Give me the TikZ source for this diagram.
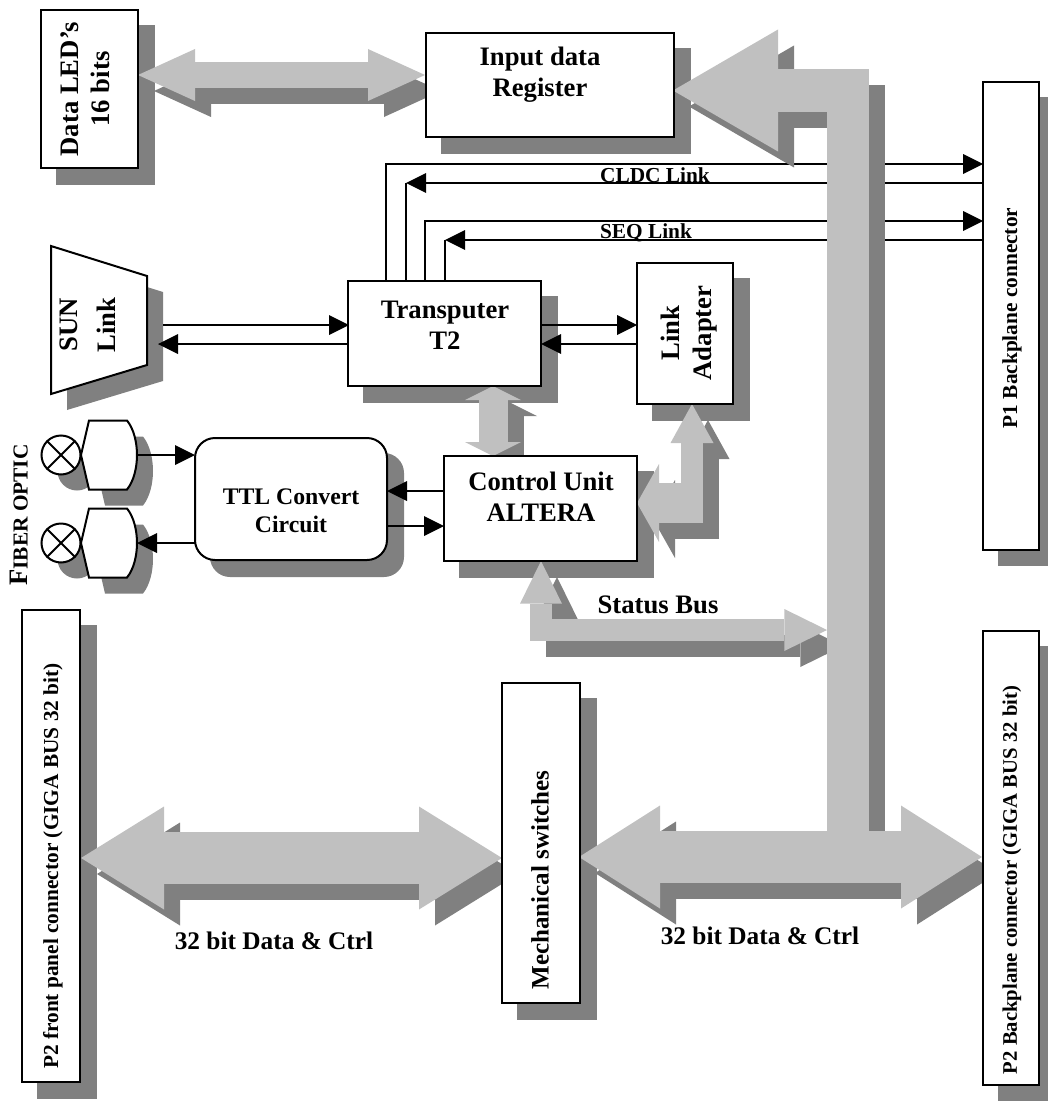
\documentclass[tikz,border=0pt]{standalone}
\usepackage{fontspec}
\setmainfont{Liberation Serif}
\usetikzlibrary{arrows.meta,calc}
\pgfdeclarelayer{box_layer}
\pgfdeclarelayer{link_layer}
\pgfdeclarelayer{bus_layer}
\pgfsetlayers{box_layer,link_layer,bus_layer,main}
\definecolor{shadow_gray}{HTML}{808080}
\definecolor{bus_gray}{HTML}{C0C0C0}
\begin{document}
\begin{tikzpicture}[x=0.75pt, y=-0.75pt]
    \tikzstyle{box_style} = [rectangle, draw=black, fill=white, line width=1.5pt, inner sep=0]
    \tikzstyle{text_big} = [inner sep=0, align=center, font=\fontsize{20}{23.5}\selectfont\bfseries]
    \tikzstyle{text_mid} = [inner sep=0, align=center, font=\fontsize{17.8}{21}\selectfont\bfseries]
    \tikzstyle{text_small} = [inner sep=0, align=center, font=\fontsize{16}{19}\selectfont\bfseries]
    \tikzstyle{link_style} = [draw=black, line width=1.5pt]
    \tikzstyle{link_arrow} = [link_style, -{Triangle[length=15pt, width=15pt, line width=0pt]}]
    \tikzset{
        bus_both/.style n args={3}{line width=#1, {Triangle[length=#2, width=#3, line width=0pt]}-{Triangle[length=#2, width=#3, line width=0pt]}},
        bus_end/.style n args={3}{line width=#1, -{Triangle[length=#2, width=#3, line width=0pt]}}
    }
    \useasboundingbox (0,0) rectangle (1048,1113);

    \node[box_style, minimum width=72.75pt, minimum height=118.5pt] (led) at (89.5,89) {};
    \node[box_style, minimum width=186pt, minimum height=78pt] (input) at (549.5,85) {};
    \node[box_style, minimum width=144.75pt, minimum height=78.75pt] (transputer) at (444.5,333.5) {};
    \node[box_style, minimum width=72pt, minimum height=105.75pt] (adapter) at (685,333.5) {};
    \node[box_style, minimum width=144.75pt, minimum height=78.75pt] (control) at (540.5,508.5) {};
    \node[box_style, rounded corners=15pt, minimum width=144pt, minimum height=91.5pt] (ttl) at (291,499) {};
    \node[box_style, minimum width=58.5pt, minimum height=240pt] (switches) at (541,843) {};
    \node[box_style, minimum width=42pt, minimum height=351pt] (p1) at (1011,316) {};
    \node[box_style, minimum width=42pt, minimum height=340.5pt] (p2back) at (1011,858) {};
    \node[box_style, minimum width=43.5pt, minimum height=354pt] (p2front) at (51,846) {};
    \draw[box_style] (51,246) -- (147,276) -- (147,365) -- (51,394) -- cycle;

    \foreach \y/\n in {455/opt_a, 543/opt_b} {
        \node[box_style, circle, minimum size=29.25pt] (\n) at (61,\y) {};
        \draw[line width=1.5pt] (\n.north west) -- (\n.south east);
        \draw[line width=1.5pt] (\n.north east) -- (\n.south west);
        \draw[box_style, shift={(0,\y)}] (81,0) -- (89,-34.5) -- (127,-34.5) .. controls (134,-26) and (137,-12) .. (137,0) .. controls (137,12) and (134,26) .. (127,34.5) -- (89,34.5) -- cycle;
    }

    \coordinate (sun_a) at (163,325);
    \coordinate (sun_b) at (158,344);
    \coordinate (disp_a) at (137,455);
    \coordinate (disp_b) at (137,543);
    \coordinate (tr_a) at (386,281);
    \coordinate (tr_b) at (406,281);
    \coordinate (tr_c) at (425,281);
    \coordinate (tr_d) at (445,281);
    \coordinate (cor_b) at (406,183);
    \coordinate (cor_d) at (445,240);
    \coordinate (p1_a) at (983,164);
    \coordinate (p1_b) at (983,183);
    \coordinate (p1_c) at (983,221);
    \coordinate (p1_d) at (983,240);
    \coordinate (tr_w1) at (349,325);
    \coordinate (tr_w2) at (349,344);
    \coordinate (tr_e1) at (541,325);
    \coordinate (tr_e2) at (541,344);
    \coordinate (ad_w1) at (637,325);
    \coordinate (ad_w2) at (637,344);
    \coordinate (ttl_w1) at (195,455);
    \coordinate (ttl_w2) at (195,543);
    \coordinate (ttl_e1) at (387,491);
    \coordinate (ttl_e2) at (387,526);
    \coordinate (ctl_w1) at (444,491);
    \coordinate (ctl_w2) at (444,526);

    \coordinate (led_tip) at (138,75);
    \coordinate (in_tip) at (425,75);
    \coordinate (main_tip) at (673,90.5);
    \coordinate (main_end) at (848,857);
    \coordinate (tr_tip) at (493,386);
    \coordinate (ctl_tip_n) at (493,456);
    \coordinate (ctl_tip_e) at (637,503);
    \coordinate (ctl_cor) at (703,503);
    \coordinate (ad_cor) at (692,523);
    \coordinate (ad_tip) at (692,404);
    \coordinate (ctl_tip_s) at (541,561);
    \coordinate (status_tip) at (827,630);
    \coordinate (front_tip) at (81,858);
    \coordinate (sw_tip_w) at (502,858);
    \coordinate (sw_tip_e) at (579,857);
    \coordinate (back_tip) at (982,857);

    \node[text_big, rotate=90] (led_t) at (85,89) {Data LED’s\\16 bits};
    \node[text_big] (input_t) at (540,74.5) {Input data\\Register};
    \node[text_big] (transputer_t) at (445,325) {Transputer\\T2};
    \node[text_big, rotate=90] (adapter_t) at (689,333) {Link\\[1pt]Adapter};
    \node[text_big] (control_t) at (541,497) {Control Unit\\ALTERA};
    \node[text_mid] (ttl_t) at (291,511) {TTL Convert\\Circuit};
    \node[text_big, rotate=90] (sun_t) at (88,325) {SUN\\[5pt]Link};
    \node[text_big, rotate=90, font=\fontsize{18.8}{22}\selectfont\bfseries] (switches_t) at (540,880) {Mechanical switches};
    \node[text_big] (status_t) at (658,605) {Status Bus};
    \node[text_small] (cldc_t) at (655,175) {CLDC Link};
    \node[text_small] (seq_t) at (646,233) {SEQ Link};
    \node[text_mid, font=\fontsize{19}{22}\selectfont\bfseries] (data_a) at (274,941) {32 bit Data \& Ctrl};
    \node[text_mid, font=\fontsize{19}{22}\selectfont\bfseries] (data_b) at (760,936) {32 bit Data \& Ctrl};
    \node[text_small, rotate=90] (p1_t) at (1012,318) {P1 Backplane connector};
    \node[text_small, rotate=90, font=\fontsize{15.5}{19}\selectfont\bfseries] (p2back_t) at (1012,880) {P2 Backplane connector (GIGA BUS 32 bit)};
    \node[text_small, rotate=90] (p2front_t) at (53,866) {P2 front panel connector (GIGA BUS 32 bit)};
    \node[inner sep=0, rotate=90, font=\fontsize{16}{19}\selectfont\bfseries] (fiber_t) at (19,515) {{\fontsize{20}{19}\selectfont F}IBER OPTIC};

    \begin{pgfonlayer}{box_layer}
        \foreach \n in {led,input,transputer,adapter,control,switches,p2front}
            \fill[shadow_gray] ($(\n.north west)+(16,16)$) rectangle ($(\n.south east)+(16,16)$);
        \fill[shadow_gray] ($(p1.north west)+(16,16)$) rectangle (1048,566);
        \fill[shadow_gray] ($(p2back.north west)+(16,16)$) rectangle (1048,1101);
        \fill[shadow_gray, rounded corners=15pt] ($(ttl.north west)+(16,16)$) rectangle ($(ttl.south east)+(16,16)$);
        \fill[shadow_gray] (67,262) -- (163,292) -- (163,381) -- (67,410) -- cycle;
        \foreach \y in {455,543} {
            \fill[shadow_gray] (77,\y+16) circle (19.5);
            \fill[shadow_gray, shift={(16,\y+16)}] (81,0) -- (89,-34.5) -- (127,-34.5) .. controls (134,-26) and (137,-12) .. (137,0) .. controls (137,12) and (134,26) .. (127,34.5) -- (89,34.5) -- cycle;
        }
    \end{pgfonlayer}

    \begin{pgfonlayer}{link_layer}
        \draw[link_arrow] (sun_a) -- (tr_w1);
        \draw[link_arrow] (tr_w2) -- (sun_b);
        \draw[link_arrow] (tr_e1) -- (ad_w1);
        \draw[link_arrow] (ad_w2) -- (tr_e2);
        \draw[link_arrow] (disp_a) -- (ttl_w1);
        \draw[link_arrow] (ttl_w2) -- (disp_b);
        \draw[link_arrow] (ctl_w1) -- (ttl_e1);
        \draw[link_arrow] (ttl_e2) -- (ctl_w2);
        \draw[link_arrow] (tr_a) |- (p1_a);
        \draw[link_arrow] (p1_b) -- (cor_b);
        \draw[link_style] (cor_b) -- (tr_b);
        \draw[link_arrow] (tr_c) |- (p1_c);
        \draw[link_arrow] (p1_d) -- (cor_d);
        \draw[link_style] (cor_d) -- (tr_d);
    \end{pgfonlayer}

    \begin{pgfonlayer}{bus_layer}
        \foreach \busfill/\bx/\by in {shadow_gray/12pt/-12pt, bus_gray/0pt/0pt} {
            \begin{scope}[transform canvas={xshift=\bx, yshift=\by}, draw=\busfill]
                \draw[bus_both={19.5pt}{42.75pt}{39pt}] (led_tip) -- (in_tip);
                \draw[bus_both={21.75pt}{10.5pt}{42pt}] (tr_tip) -- (ctl_tip_n);
                \draw[bus_both={16.25pt}{32pt}{31.5pt}] (ctl_tip_s) |- (status_tip);
                \draw[bus_end={30pt}{16.5pt}{58.5pt}] (ctl_cor) -- (ctl_tip_e);
                \draw[bus_end={16.5pt}{29.25pt}{32.25pt}] (ad_cor) -- (ad_tip);
                \draw[bus_both={39pt}{62.25pt}{77.25pt}] (front_tip) -- (sw_tip_w);
                \draw[bus_end={31.75pt}{78.75pt}{91.5pt}] (main_end) |- (main_tip);
                \draw[bus_both={39pt}{60.75pt}{77.25pt}] (sw_tip_e) -- (back_tip);
            \end{scope}
        }
    \end{pgfonlayer}
\end{tikzpicture}
\end{document}
